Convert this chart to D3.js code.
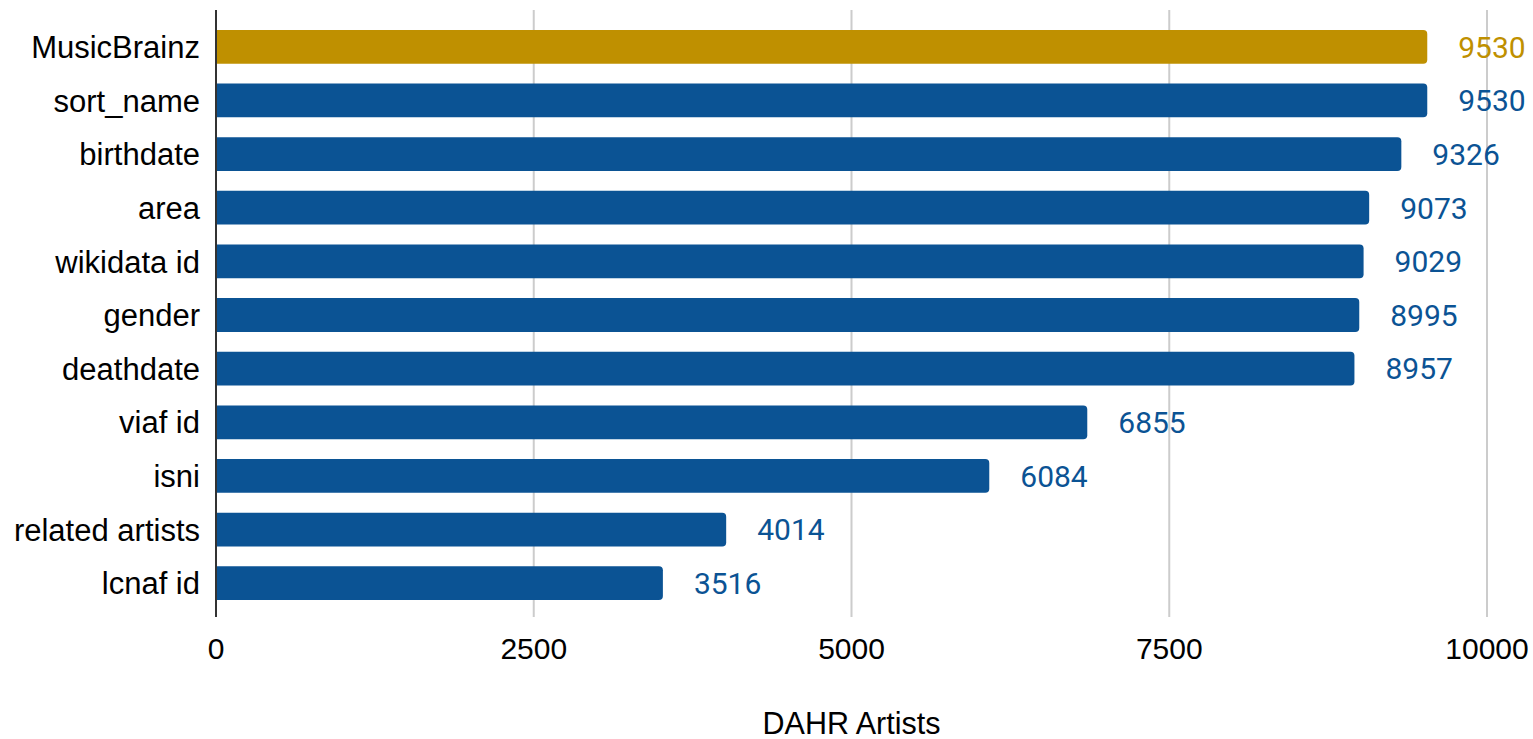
<!DOCTYPE html>
<html>
<head>
<meta charset="utf-8">
<style>
  body { margin: 0; background: #fff; }
  svg { display: block; }
</style>
</head>
<body>
<svg width="1533" height="739"></svg>
<script src="https://cdn.jsdelivr.net/npm/d3@7"></script>
<script>

var categories = ["MusicBrainz", "sort_name", "birthdate", "area", "wikidata id", "gender",
                  "deathdate", "viaf id", "isni", "related artists", "lcnaf id"];
var values = [9530, 9530, 9326, 9073, 9029, 8995, 8957, 6855, 6084, 4014, 3516];
var ticks = [0, 2500, 5000, 7500, 10000];
var axisTitle = "DAHR Artists";

var svg = d3.select("svg");

var x = d3.scaleLinear().domain([0, 10000]).range([216, 1487]);

var y = d3.scaleBand()
    .domain(categories)
    .range([20, 610])
    .paddingInner(0.37)
    .paddingOuter(0.185);

var color = function(i) { return i === 0 ? "#bf9000" : "#0b5394"; };

// gridlines
svg.append("g")
  .selectAll("line")
  .data(ticks.slice(1))
  .enter().append("line")
    .attr("x1", function(d) { return x(d); })
    .attr("x2", function(d) { return x(d); })
    .attr("y1", 10)
    .attr("y2", 617)
    .attr("stroke", "#cccccc")
    .attr("stroke-width", 2);

// bars, rounded on the right end only
var r = 4;
svg.append("g")
  .selectAll("path")
  .data(values)
  .enter().append("path")
    .attr("d", function(d, i) {
      var x0 = x(0), x1 = x(d), y0 = y(categories[i]), h = y.bandwidth();
      return "M" + x0 + "," + y0 +
        "H" + (x1 - r) +
        "Q" + x1 + "," + y0 + " " + x1 + "," + (y0 + r) +
        "V" + (y0 + h - r) +
        "Q" + x1 + "," + (y0 + h) + " " + (x1 - r) + "," + (y0 + h) +
        "H" + x0 + "Z";
    })
    .attr("fill", function(d, i) { return color(i); });

// value labels
svg.append("g")
  .selectAll("text")
  .data(values)
  .enter().append("text")
    .attr("x", function(d) { return x(d) + 31; })
    .attr("y", function(d, i) { return y(categories[i]) + y.bandwidth() / 2; })
    .attr("dy", "0.36em")
    .attr("fill", function(d, i) { return color(i); })
    .style("font-family", "Roboto, sans-serif")
    .style("font-size", "30px")
    .text(function(d) { return d; });

// category labels
svg.append("g")
  .selectAll("text")
  .data(categories)
  .enter().append("text")
    .attr("x", 200)
    .attr("y", function(d) { return y(d) + y.bandwidth() / 2; })
    .attr("dy", "0.36em")
    .attr("text-anchor", "end")
    .attr("fill", "#000")
    .style("font-family", "'Liberation Sans', Arial, sans-serif")
    .style("font-size", "31px")
    .text(function(d) { return d; });

// y axis line
svg.append("line")
  .attr("x1", x(0)).attr("x2", x(0))
  .attr("y1", 10).attr("y2", 617)
  .attr("stroke", "#333")
  .attr("stroke-width", 2);

// x tick labels
svg.append("g")
  .selectAll("text")
  .data(ticks)
  .enter().append("text")
    .attr("x", function(d) { return x(d); })
    .attr("y", 659)
    .attr("text-anchor", "middle")
    .attr("fill", "#000")
    .style("font-family", "'Liberation Sans', Arial, sans-serif")
    .style("font-size", "30px")
    .text(function(d) { return d; });

// axis title
svg.append("text")
  .attr("x", (x(0) + x(10000)) / 2)
  .attr("y", 734)
  .attr("text-anchor", "middle")
  .attr("fill", "#000")
  .style("font-family", "'Liberation Sans', Arial, sans-serif")
  .style("font-size", "30.5px")
  .text(axisTitle);

</script>
</body>
</html>
